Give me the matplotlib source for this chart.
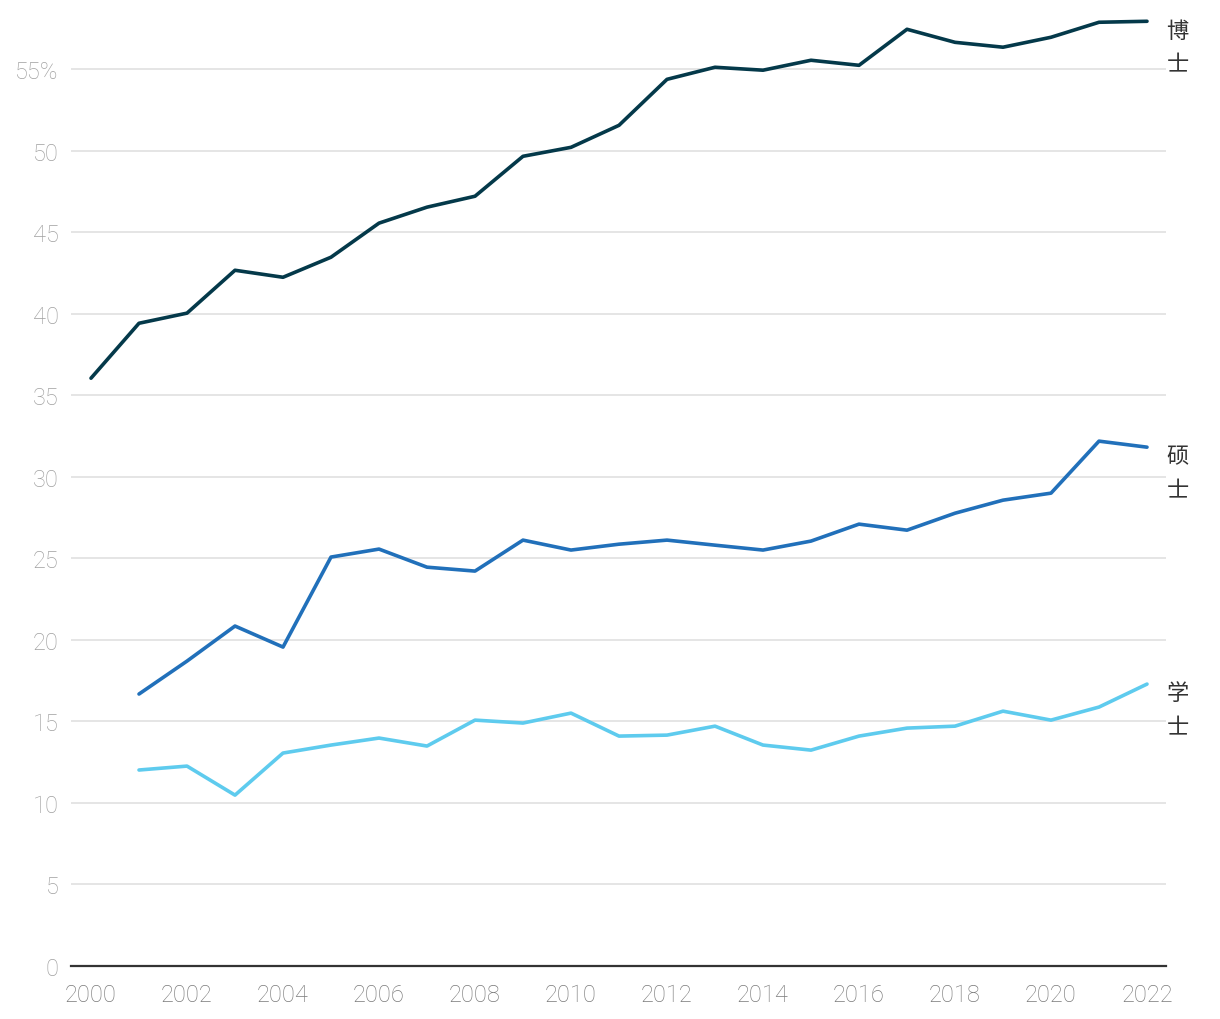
import matplotlib
matplotlib.use("Agg")
import matplotlib.pyplot as plt
import numpy as np

plt.rcParams['font.family'] = ['Noto Sans CJK SC', 'DejaVu Sans']

years = list(range(2000, 2023))
years_sub = list(range(2001, 2023))

phd = [36.05, 39.42, 40.04, 42.67, 42.24, 43.47, 45.56, 46.54, 47.21, 49.66, 50.21,
       51.56, 54.38, 55.12, 54.94, 55.55, 55.24, 57.45, 56.65, 56.35, 56.96, 57.88, 57.94]
master = [16.68, 18.70, 20.85, 19.56, 25.08, 25.57, 24.46, 24.22, 26.12, 25.51, 25.87,
          26.12, 25.81, 25.51, 26.06, 27.10, 26.73, 27.77, 28.57, 29.00, 32.19, 31.82]
bachelor = [12.02, 12.26, 10.48, 13.06, 13.55, 13.98, 13.49, 15.08, 14.90, 15.51, 14.10,
            14.16, 14.71, 13.55, 13.24, 14.10, 14.59, 14.71, 15.63, 15.08, 15.88, 17.29]

series_names = ['博士', '硕士', '学士']
colors = ['#04394a', '#2170ba', '#5ecbee']

yticks = [0, 5, 10, 15, 20, 25, 30, 35, 40, 45, 50, 55]
ytick_labels = ['0', '5', '10', '15', '20', '25', '30', '35', '40', '45', '50', '55%']
xticks = list(range(2000, 2023, 2))

fig = plt.figure(figsize=(12.2, 10.2), dpi=100)
ax = fig.add_axes([71/1220, 53/1020, (1166-71)/1220, (967-5)/1020])

data = [(years, phd), (years_sub, master), (years_sub, bachelor)]
for (xs, ys), name, c in zip(data, series_names, colors):
    ax.plot(xs, ys, color=c, lw=2.6, solid_capstyle='round', solid_joinstyle='round', zorder=3)
    ax.annotate('\n'.join(name), xy=(xs[-1], ys[-1]), xytext=(14, 2), textcoords='offset points',
                ha='left', va='top', fontsize=16, color='#333333', linespacing=1.6,
                annotation_clip=False)

ax.set_xlim(2000 - 20/48, 2022 + 19/48)
ax.set_ylim(0, 59)
ax.set_yticks(yticks)
ax.set_yticklabels(ytick_labels)
ax.set_xticks(xticks)
ax.set_xticklabels([str(x) for x in xticks])

ax.grid(axis='y', color='#e3e3e3', lw=1.3)
ax.set_axisbelow(True)
for s in ['top', 'right', 'left']:
    ax.spines[s].set_visible(False)
ax.spines['bottom'].set_color('#333333')
ax.spines['bottom'].set_linewidth(1.6)
ax.spines['bottom'].set_zorder(4)

ax.tick_params(axis='y', length=0, pad=9, labelsize=17, labelcolor='#a0a0a0')
ax.tick_params(axis='x', length=0, pad=12, labelsize=17, labelcolor='#7a7a7a')
for lab in ax.get_yticklabels() + ax.get_xticklabels():
    lab.set_fontfamily(['Roboto', 'DejaVu Sans'])
    lab.set_fontweight('light')

fig.savefig('out.png', dpi=100)
